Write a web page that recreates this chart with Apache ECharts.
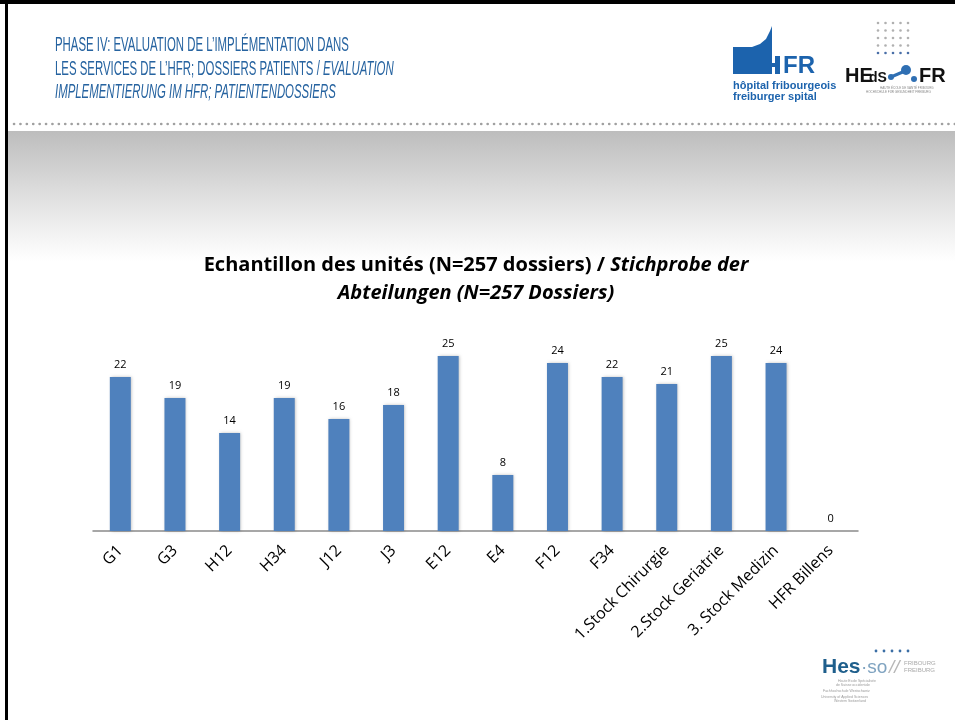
<!DOCTYPE html>
<html lang="fr">
<head>
  <meta charset="UTF-8">
  <title>Echantillon des unités - ECharts</title>
  <script src="https://cdn.jsdelivr.net/npm/echarts@6.0.0/dist/echarts.min.js"></script>
  <style>
    html, body { margin: 0; padding: 0; background: #fff; }
  </style>
</head>
<body>
  <!-- Slide container -->
  <div id="main" style="width: 955px; height: 720px;"></div>

  <script>
    // Units and number of patient files per unit
    const units = ['G1', 'G3', 'H12', 'H34', 'J12', 'J3', 'E12', 'E4', 'F12', 'F34',
      '1.Stock Chirurgie', '2.Stock Geriatrie', '3. Stock Medizin', 'HFR Billens'];
    const dossiers = [22, 19, 14, 19, 16, 18, 25, 8, 24, 22, 21, 25, 24, 0];

    const headerLines = [
      '{n|PHASE IV: EVALUATION DE L\u2019IMPLÉMENTATION DANS}',
      '{n|LES SERVICES DE L\u2019HFR; DOSSIERS PATIENTS / }{i|EVALUATION}',
      '{i|IMPLEMENTIERUNG IM HFR; PATIENTENDOSSIERS}'
    ];

    let myChart = echarts.init(document.getElementById('main'));

    const headFont = '"Liberation Sans Narrow", "Liberation Sans", sans-serif';
    const blue = '#2663a0';
    const hfrBlue = '#1c63ad';

    // zrender rich text uses fill for the colour
    const headRich = {
      n: { fontFamily: headFont, fontSize: 20, fill: blue },
      i: { fontFamily: headFont, fontSize: 20, fontStyle: 'italic', fill: blue }
    };

    // small helper for logo texts, vertically centred on y
    function txt(x, y, text, font, fill, z) {
      return { type: 'text', z: z || 10, style: { x: x, y: y, text: text, font: font, fill: fill, verticalAlign: 'middle' } };
    }

    // dots for the HEdS logo
    const hedsDots = [];
    for (let r = 0; r < 5; r++) {
      for (let c = 0; c < 5; c++) {
        hedsDots.push({
          type: 'circle',
          shape: { cx: 878 + c * 7.5, cy: 23 + r * 7.5, r: 1.3 },
          style: { fill: r === 4 ? '#4a6fa8' : '#b0b0b0' }
        });
      }
    }
    const hesDots = [];
    for (let c = 0; c < 5; c++) {
      hesDots.push({
        type: 'circle',
        shape: { cx: 876 + c * 8, cy: 651, r: 1.4 },
        style: { fill: '#3b6ea5' }
      });
    }

    const options = {
      backgroundColor: '#fff',
      animation: false,
      title: {
        left: 471,
        top: 246,
        textAlign: 'center',
        text: '{b|Echantillon des unités (N=257 dossiers) / }{i|Stichprobe der}\n{i|Abteilungen (N=257 Dossiers)}',
        textStyle: {
          rich: {
            b: { fontFamily: '"Open Sans", sans-serif', fontWeight: 'bold', fontSize: 20, color: '#000', lineHeight: 28 },
            i: { fontFamily: '"Open Sans", sans-serif', fontWeight: 'bold', fontStyle: 'italic', fontSize: 20, color: '#000', lineHeight: 28 }
          }
        }
      },
      grid: { left: 93, right: 97, top: 321, bottom: 189, containLabel: false },
      xAxis: {
        type: 'category',
        data: units,
        axisLine: { lineStyle: { color: '#8a8a8a', width: 1.5 } },
        axisTick: { show: false },
        axisLabel: {
          interval: 0,
          rotate: 45,
          margin: 17,
          fontSize: 16,
          color: '#000',
          fontFamily: '"Open Sans", sans-serif'
        }
      },
      yAxis: {
        type: 'value',
        min: 0,
        max: 30,
        show: false,
        splitLine: { show: false }
      },
      series: [{
        name: 'Dossiers',
        type: 'bar',
        data: dossiers,
        barWidth: 21,
        itemStyle: {
          color: '#4f81bd',
          shadowBlur: 3,
          shadowColor: 'rgba(0,0,0,0.25)',
          shadowOffsetX: 1,
          shadowOffsetY: 0
        },
        label: {
          show: true,
          position: 'top',
          distance: 7,
          fontSize: 11,
          color: '#000',
          fontFamily: '"Open Sans", sans-serif'
        }
      }],
      graphic: [
        // slide border
        { type: 'rect', shape: { x: 0, y: 0, width: 955, height: 4 }, style: { fill: '#000' }, z: 100 },
        { type: 'rect', shape: { x: 5, y: 0, width: 3, height: 720 }, style: { fill: '#000' }, z: 100 },
        // grey band below header
        {
          type: 'rect', silent: true, z: -10,
          shape: { x: 8, y: 131, width: 947, height: 130 },
          style: {
            fill: new echarts.graphic.LinearGradient(0, 0, 0, 1, [
              { offset: 0, color: '#bdbdbd' },
              { offset: 0.6, color: '#e6e6e6' },
              { offset: 1, color: '#ffffff' }
            ])
          }
        },
        // dotted separator
        {
          type: 'line', z: 5,
          shape: { x1: 14, y1: 124, x2: 955, y2: 124 },
          style: { stroke: '#a0a0a0', lineWidth: 2.6, lineDash: [0.1, 6.3], lineCap: 'round' }
        },
        // header text, squeezed horizontally like the condensed slide font
        {
          type: 'group', x: 55, y: 0, scaleX: 0.57,
          children: [
            { type: 'text', style: { x: 0, y: 45, text: headerLines[0], rich: headRich, verticalAlign: 'middle' } },
            { type: 'text', style: { x: 0, y: 69, text: headerLines[1], rich: headRich, verticalAlign: 'middle' } },
            { type: 'text', style: { x: 0, y: 92, text: headerLines[2], rich: headRich, verticalAlign: 'middle' } }
          ]
        },
        // HFR logo
        {
          type: 'group', z: 10,
          children: [
            { type: 'rect', shape: { x: 728, y: 22, width: 100, height: 84 }, style: { fill: '#fff' } },
            {
              type: 'polygon',
              shape: { points: [[733, 47], [752, 47], [760, 44], [766, 39], [770, 31], [772, 26], [772, 74], [733, 74]] },
              style: { fill: hfrBlue }
            },
            { type: 'rect', shape: { x: 775, y: 56, width: 5, height: 18 }, style: { fill: hfrBlue } },
            { type: 'rect', shape: { x: 772, y: 63, width: 8, height: 4 }, style: { fill: hfrBlue } },
            txt(783, 66, 'FR', 'bold 24px "Liberation Sans", sans-serif', hfrBlue, 11),
            txt(733, 86, 'hôpital fribourgeois', 'bold 11px "Liberation Sans Narrow", sans-serif', hfrBlue, 11),
            txt(733, 97, 'freiburger spital', 'bold 11px "Liberation Sans Narrow", sans-serif', hfrBlue, 11)
          ]
        },
        // HEdS-FR logo
        {
          type: 'group', z: 10,
          children: hedsDots.concat([
            txt(845, 76, 'HE', 'bold 20px "Liberation Sans Narrow", sans-serif', '#111'),
            txt(869, 78, 'dS', 'bold 14px "Liberation Sans Narrow", sans-serif', '#111'),
            { type: 'circle', shape: { cx: 891, cy: 77, r: 3 }, style: { fill: '#2f6fb3' } },
            { type: 'line', shape: { x1: 891, y1: 77, x2: 905, y2: 71 }, style: { stroke: '#2f6fb3', lineWidth: 3 } },
            { type: 'circle', shape: { cx: 906, cy: 70, r: 5 }, style: { fill: '#2f6fb3' } },
            { type: 'circle', shape: { cx: 914, cy: 79, r: 3 }, style: { fill: '#2f6fb3' } },
            txt(919, 76, 'FR', 'bold 20px "Liberation Sans", sans-serif', '#111'),
            txt(880, 88, 'HAUTE ÉCOLE DE SANTÉ FRIBOURG', '3px "Liberation Sans", sans-serif', '#888'),
            txt(866, 92, 'HOCHSCHULE FÜR GESUNDHEIT FREIBURG', '3px "Liberation Sans", sans-serif', '#888')
          ])
        },
        // HES-SO logo
        {
          type: 'group', z: 10,
          children: hesDots.concat([
            txt(822, 667, 'Hes', 'bold 21px "Liberation Sans", sans-serif', '#1f5f8c'),
            txt(861, 668, '·so', '19px "Liberation Sans", sans-serif', '#7fa3c0'),
            txt(889, 668, '//', 'italic 19px "Liberation Sans", sans-serif', '#b7b7b7'),
            txt(904, 663, 'FRIBOURG', '6px "Liberation Sans", sans-serif', '#aaa'),
            txt(904, 670, 'FREIBURG', '6px "Liberation Sans", sans-serif', '#aaa'),
            txt(838, 681, 'Haute Ecole Spécialisée', '3.5px "Liberation Sans", sans-serif', '#999'),
            txt(836, 685, 'de Suisse occidentale', '3.5px "Liberation Sans", sans-serif', '#999'),
            txt(823, 691, 'Fachhochschule Westschweiz', '3.5px "Liberation Sans", sans-serif', '#999'),
            txt(821, 697, 'University of Applied Sciences', '3.5px "Liberation Sans", sans-serif', '#999'),
            txt(834, 701, 'Western Switzerland', '3.5px "Liberation Sans", sans-serif', '#999')
          ])
        }
      ]
    };

    myChart.setOption(options);
  </script>
</body>
</html>
